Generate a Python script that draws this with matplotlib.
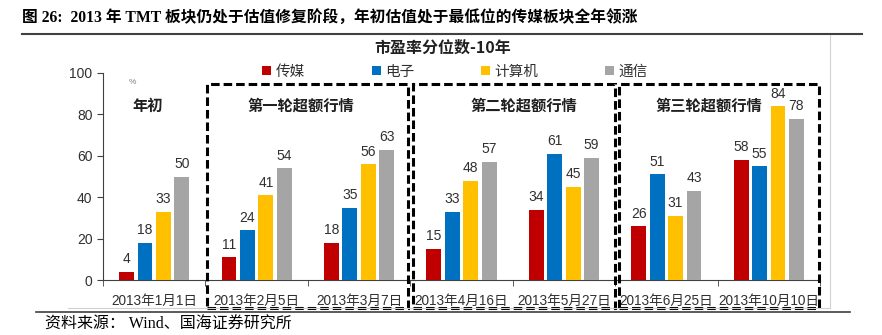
import numpy as np
import matplotlib.pyplot as plt
from matplotlib.patches import Rectangle
from matplotlib.lines import Line2D

plt.rcParams['font.family'] = ['Liberation Sans', 'Noto Sans CJK SC']

dates = ['2013年1月1日', '2013年2月5日', '2013年3月7日', '2013年4月16日',
         '2013年5月27日', '2013年6月25日', '2013年10月10日']
series = ['传媒', '电子', '计算机', '通信']
media = [4, 11, 18, 15, 34, 26, 58]
electronics = [18, 24, 35, 33, 61, 51, 55]
computer = [33, 41, 56, 48, 45, 31, 84]
telecom = [50, 54, 63, 57, 59, 43, 78]
colors = ['#C00000', '#0070C0', '#FFC000', '#A5A5A5']

phases = ['第一轮超额行情', '第二轮超额行情', '第三轮超额行情']

W, H = 882, 335
fig = plt.figure(figsize=(W / 100, H / 100), dpi=100)


def fx(px):
    return px / W


def fy(py):
    return 1 - py / H


ax = fig.add_axes((fx(103), fy(280), fx(820) - fx(103), fy(73) - fy(280)))

x = np.arange(len(dates))
vals = [media, electronics, computer, telecom]
bw = 0.145
step = 0.18
for i, (name, v, c) in enumerate(zip(series, vals, colors)):
    xs = x + (i - 1.5) * step
    ax.bar(xs, v, bw, color=c, label=name, zorder=3)
    for xi, vi in zip(xs, v):
        ax.annotate(str(vi), (xi, vi), xytext=(0, 4), textcoords='offset points',
                    ha='center', va='bottom', fontsize=10, color='#303030')

ax.set_xlim(-0.5, len(dates) - 0.5)
ax.set_ylim(0, 100)
ax.set_yticks(range(0, 101, 20))
ax.set_xticks(x)
ax.set_xticklabels(dates, fontsize=9.8, color='#303030')
ax.set_xticks(np.arange(-0.5, len(dates), 1), minor=True)
ax.tick_params(axis='x', which='major', length=0, pad=10)
ax.tick_params(axis='x', which='minor', length=4, color='#404040')
ax.tick_params(axis='y', labelsize=10, length=4, color='#404040', labelcolor='#303030')
for s in ['top', 'right']:
    ax.spines[s].set_visible(False)
for s in ['left', 'bottom']:
    ax.spines[s].set_color('#404040')

# dashed phase boxes (pixel positions converted to data units)
def dx(px):
    return (px - 103) / (717 / 7) - 0.5


def dy(py):
    return (280 - py) / 2.07


boxes = [(207, 408), (413, 615), (619, 819)]
for (l, r), name in zip(boxes, phases):
    ax.add_patch(Rectangle((dx(l), dy(308)), dx(r) - dx(l), dy(84) - dy(308),
                           fill=False, ec='black', lw=2.2, ls=(0, (2.8, 1.3)),
                           clip_on=False, zorder=5))
label_x = [301, 524, 709]
for lx, name in zip(label_x, phases):
    fig.text(fx(lx), fy(106), name, ha='center', va='center', fontsize=11,
             fontweight='bold', family=['Noto Sans CJK SC'], color='#202020')
fig.text(fx(148), fy(106), '年初', ha='center', va='center', fontsize=11,
         fontweight='bold', family=['Noto Sans CJK SC'], color='#202020')
fig.text(fx(132), fy(82), '%', ha='center', va='center', fontsize=6, color='#808080')

ax.legend(loc='center', bbox_to_anchor=(fx(455), fy(72)), bbox_transform=fig.transFigure,
          ncol=4, frameon=False, handlelength=0.6, handleheight=0.6,
          handletextpad=0.3, columnspacing=4.6, labelcolor='#303030',
          prop={'family': ['Noto Sans CJK SC'], 'size': 10.5})

fig.text(fx(443), fy(48), '市盈率分位数-10年', ha='center', va='center', fontsize=11.5,
         fontweight='bold', family=['Noto Sans CJK SC'], color='#202020')

fig.text(fx(22), fy(18), '图 26:  2013 年 TMT 板块仍处于估值修复阶段，年初估值处于最低位的传媒板块全年领涨',
         ha='left', va='center', fontsize=11.3, fontweight='bold',
         family=['Liberation Serif', 'Noto Sans CJK SC'], color='black')
fig.add_artist(Line2D([fx(22), fx(862)], [fy(34), fy(34)], color='#404040', lw=1.5))
fig.add_artist(Line2D([fx(830), fx(830)], [fy(35), fy(308)], color='#D0D0D0', lw=0.8))
fig.add_artist(Line2D([fx(68), fx(830)], [fy(308), fy(308)], color='#D0D0D0', lw=0.8))
fig.add_artist(Line2D([fx(36), fx(850)], [fy(312), fy(312)], color='#404040', lw=1.2))
fig.text(fx(45), fy(325), '资料来源： Wind、国海证券研究所', ha='left', va='center',
         fontsize=11.5, family=['Liberation Serif', 'Noto Sans CJK SC'], color='black')

plt.savefig('out.png', dpi=100)
